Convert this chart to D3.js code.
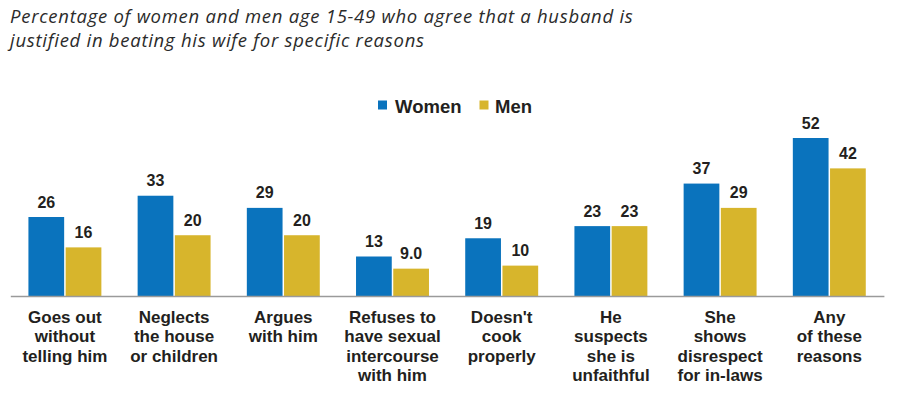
<!DOCTYPE html>
<html>
<head>
<meta charset="utf-8">
<script src="https://cdn.jsdelivr.net/npm/d3@7"></script>
<style>
  html, body { margin: 0; padding: 0; background: #fff; }
  svg { display: block; }
</style>
</head>
<body>
<svg id="chart" width="911" height="395"></svg>
<script>
const titleLines = [
  "Percentage of women and men age 15-49 who agree that a husband is",
  "justified in beating his wife for specific reasons"
];
const categories = [
  ["Goes out", "without", "telling him"],
  ["Neglects", "the house", "or children"],
  ["Argues", "with him"],
  ["Refuses to", "have sexual", "intercourse", "with him"],
  ["Doesn't", "cook", "properly"],
  ["He", "suspects", "she is", "unfaithful"],
  ["She", "shows", "disrespect", "for in-laws"],
  ["Any", "of these", "reasons"]
];
const seriesNames = ["Women", "Men"];
const women = [26, 33, 29, 13, 19, 23, 37, 52];
const men = [16, 20, 20, 9.0, 10, 23, 29, 42];
const menLabels = ["16", "20", "20", "9.0", "10", "23", "29", "42"];
const womenLabels = ["26", "33", "29", "13", "19", "23", "37", "52"];

const colors = { Women: "#0a73bd", Men: "#d7b52c" };
const textColor = "#231f20";

const svg = d3.select("#chart");

// Title
svg.append("g").selectAll("text").data(titleLines).join("text")
  .attr("x", 10)
  .attr("y", (d, i) => 23 + i * 24)
  .attr("font-family", "'Open Sans', sans-serif")
  .attr("font-style", "italic")
  .attr("font-size", 18.5)
  .attr("letter-spacing", 0.73)
  .attr("fill", "#2b2b2b")
  .text(d => d);

const baseline = 296;
const keys = categories.map((c, i) => "c" + i);
const x0 = d3.scaleBand().domain(keys).range([10.3, 883.9]).paddingInner(0.332).paddingOuter(0.166);
const x1 = d3.scaleBand().domain(seriesNames).range([0, x0.bandwidth()]).paddingInner(0.04);
const y = d3.scaleLinear().domain([0, 52]).range([baseline, 138]);

const data = keys.map((k, i) => ({
  key: k,
  values: [
    { name: "Women", value: women[i], label: womenLabels[i] },
    { name: "Men", value: men[i], label: menLabels[i] }
  ]
}));

const groups = svg.append("g").selectAll("g").data(data).join("g")
  .attr("transform", d => `translate(${x0(d.key)},0)`);

groups.selectAll("rect").data(d => d.values).join("rect")
  .attr("x", d => x1(d.name))
  .attr("y", d => y(d.value))
  .attr("width", x1.bandwidth())
  .attr("height", d => baseline - y(d.value))
  .attr("fill", d => colors[d.name]);

groups.selectAll("text.val").data(d => d.values).join("text")
  .attr("class", "val")
  .attr("x", d => x1(d.name) + x1.bandwidth() / 2)
  .attr("y", d => y(d.value) - 9.5)
  .attr("text-anchor", "middle")
  .attr("font-family", "'Liberation Sans', Arial, sans-serif")
  .attr("font-weight", "bold")
  .attr("font-size", 16)
  .attr("fill", textColor)
  .text(d => d.label);

// Axis
const axis = d3.axisBottom(x0).tickSize(0).tickFormat("");
const axG = svg.append("g").attr("transform", `translate(0,${baseline})`).call(axis);
axG.select(".domain").attr("stroke", "#9a9a9a").attr("stroke-width", 1.5);

// Category labels
const catG = svg.append("g").selectAll("text").data(keys).join("text")
  .attr("x", d => x0(d) + x0.bandwidth() / 2)
  .attr("y", 323)
  .attr("text-anchor", "middle")
  .attr("font-family", "'Liberation Sans', Arial, sans-serif")
  .attr("font-weight", "bold")
  .attr("font-size", 17)
  .attr("fill", textColor);
catG.each(function(d, i) {
  d3.select(this).selectAll("tspan").data(categories[i]).join("tspan")
    .attr("x", x0(d) + x0.bandwidth() / 2)
    .attr("dy", (t, j) => j === 0 ? 0 : 19.4)
    .text(t => t);
});

// Legend
const legendItems = [
  { name: "Women", sx: 378, tx: 395 },
  { name: "Men", sx: 479.5, tx: 495 }
];
const lg = svg.append("g");
lg.selectAll("rect").data(legendItems).join("rect")
  .attr("x", d => d.sx).attr("y", 100.5)
  .attr("width", 9).attr("height", 9)
  .attr("fill", d => colors[d.name]);
lg.selectAll("text").data(legendItems).join("text")
  .attr("x", d => d.tx).attr("y", 112.5)
  .attr("font-family", "'Liberation Sans', Arial, sans-serif")
  .attr("font-weight", "bold")
  .attr("font-size", 18.5)
  .attr("fill", textColor)
  .text(d => d.name);
</script>
</body>
</html>
